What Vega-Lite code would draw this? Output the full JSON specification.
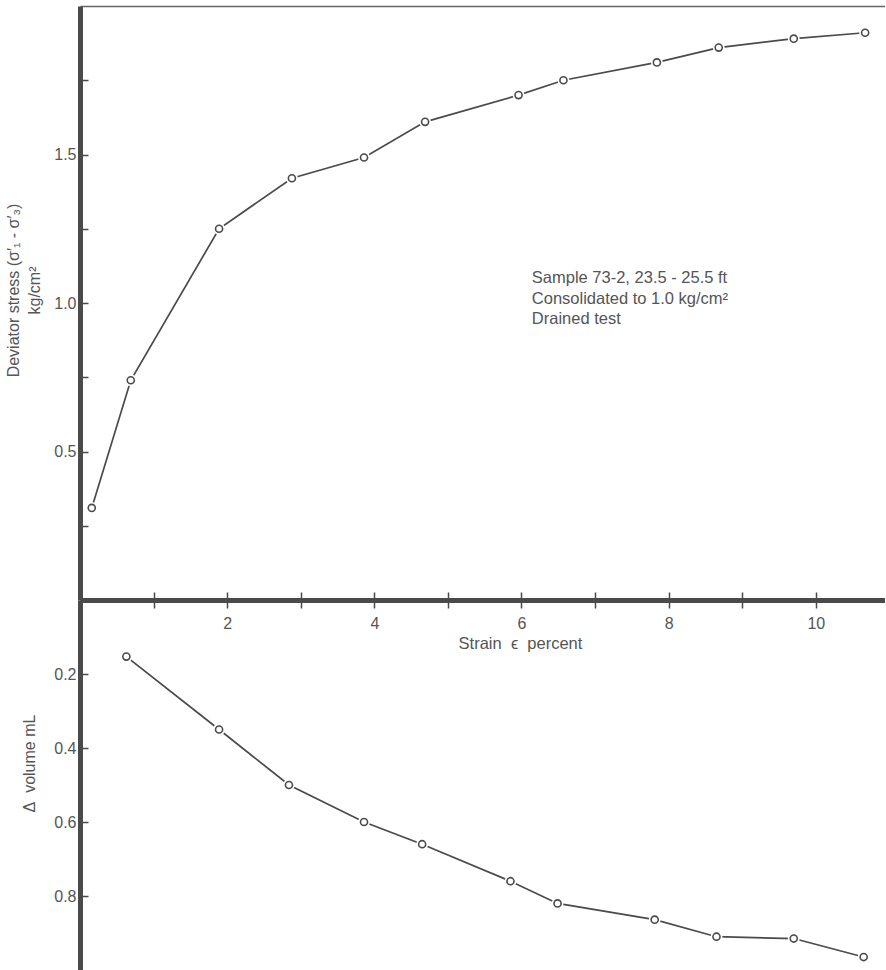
{
  "$schema": "https://vega.github.io/schema/vega-lite/v6.json",
  "autosize": {"type": "pad"},
  "padding": {"left": 5, "top": 6, "right": 0, "bottom": 0},
  "background": "white",
  "config": {
    "view": {"stroke": null},
    "font": "Liberation Sans",
    "axis": {
      "labelFont": "Liberation Sans",
      "titleFont": "Liberation Sans",
      "labelColor": "#555",
      "titleColor": "#555",
      "labelFontSize": 16,
      "titleFontSize": 16,
      "titleFontWeight": "normal",
      "domainColor": "#4a4a4a",
      "tickColor": "#4a4a4a",
      "grid": false
    }
  },
  "datasets": {
    "stress": [
      {"strain": 0.16, "stress": 0.31},
      {"strain": 0.69, "stress": 0.74},
      {"strain": 1.89, "stress": 1.25},
      {"strain": 2.88, "stress": 1.42},
      {"strain": 3.86, "stress": 1.49},
      {"strain": 4.69, "stress": 1.61},
      {"strain": 5.96, "stress": 1.70},
      {"strain": 6.57, "stress": 1.75},
      {"strain": 7.84, "stress": 1.81},
      {"strain": 8.68, "stress": 1.86},
      {"strain": 9.70, "stress": 1.89},
      {"strain": 10.67, "stress": 1.91}
    ],
    "volume": [
      {"strain": 0.63, "volume": 0.153},
      {"strain": 1.89, "volume": 0.35},
      {"strain": 2.84, "volume": 0.50},
      {"strain": 3.86, "volume": 0.60},
      {"strain": 4.65, "volume": 0.66},
      {"strain": 5.85, "volume": 0.76},
      {"strain": 6.49, "volume": 0.82},
      {"strain": 7.81, "volume": 0.864},
      {"strain": 8.65, "volume": 0.91},
      {"strain": 9.70, "volume": 0.915},
      {"strain": 10.65, "volume": 0.965}
    ],
    "notes": [
      {"strain": 6.14, "stress": 1.083, "text": "Sample 73-2, 23.5 - 25.5 ft"},
      {"strain": 6.14, "stress": 1.013, "text": "Consolidated to 1.0 kg/cm²"},
      {"strain": 6.14, "stress": 0.945, "text": "Drained test"}
    ]
  },
  "vconcat": [
    {
      "width": 805,
      "height": 594,
      "encoding": {
        "y": {
          "field": "stress", "type": "quantitative",
          "scale": {"domain": [0, 2], "nice": false, "zero": false},
          "axis": {
            "title": ["Deviator stress (σ′₁ - σ′₃)", "kg/cm²"],
            "titleLineHeight": 21,
            "titleY": 284,
            "titlePadding": 11,
            "values": [0.25, 0.5, 0.75, 1, 1.25, 1.5, 1.75],
            "labelExpr": "datum.value % 0.5 === 0 ? format(datum.value, '.1f') : ''",
            "tickSize": -8,
            "tickWidth": 1.5,
            "labelPadding": 12,
            "domainWidth": 5
          }
        }
      },
      "layer": [
        {
          "data": {"name": "stress"},
          "mark": {"type": "line", "color": "#4a4a4a", "strokeWidth": 1.7},
          "encoding": {
            "x": {
              "field": "strain", "type": "quantitative",
              "scale": {"domain": [0, 10.94], "nice": false, "zero": false},
              "axis": {
                "orient": "bottom",
                "title": "Strain\u00a0 ϵ\u00a0 percent",
                "titleFontSize": 16.5,
                "titleX": 440,
                "titlePadding": 4,
                "values": [1, 2, 3, 4, 5, 6, 7, 8, 9, 10],
                "labelExpr": "datum.value % 2 === 0 ? datum.label : ''",
                "tickSize": 8,
                "tickWidth": 1.5,
                "labelPadding": 7,
                "domainWidth": 5
              }
            }
          }
        },
        {
          "data": {"name": "stress"},
          "mark": {"type": "point", "shape": "circle", "filled": true, "fill": "white", "strokeWidth": 0, "size": 140, "opacity": 1},
          "encoding": {
            "x": {
              "field": "strain", "type": "quantitative",
              "axis": {
                "orient": "top", "title": null, "labels": false, "ticks": false,
                "domainWidth": 1.5, "domainColor": "#666"
              }
            }
          }
        },
        {
          "data": {"name": "stress"},
          "mark": {"type": "point", "shape": "circle", "filled": false, "fill": "white", "stroke": "#4a4a4a", "strokeWidth": 1.6, "size": 50, "opacity": 1},
          "encoding": {
            "x": {"field": "strain", "type": "quantitative", "axis": null}
          }
        },
        {
          "data": {"name": "notes"},
          "mark": {"type": "text", "align": "left", "baseline": "middle", "fontSize": 16.5, "color": "#555", "font": "Liberation Sans"},
          "encoding": {
            "x": {"field": "strain", "type": "quantitative", "axis": null},
            "text": {"field": "text"}
          }
        }
      ],
      "resolve": {"axis": {"x": "independent"}}
    },
    {
      "width": 805,
      "height": 370,
      "data": {"name": "volume"},
      "encoding": {
        "x": {
          "field": "strain", "type": "quantitative",
          "scale": {"domain": [0, 10.94], "nice": false, "zero": false},
          "axis": {
            "orient": "top", "title": null, "labels": false,
            "values": [1, 2, 3, 4, 5, 6, 7, 8, 9, 10],
            "tickSize": 8, "tickWidth": 1.5, "domainWidth": 5
          }
        },
        "y": {
          "field": "volume", "type": "quantitative",
          "scale": {"domain": [0, 1], "nice": false, "zero": false, "reverse": true},
          "axis": {
            "title": "Δ\u00a0 volume mL",
            "titleY": 163,
            "titlePadding": 16,
            "values": [0.2, 0.4, 0.6, 0.8],
            "format": ".1f",
            "tickSize": -8,
            "tickWidth": 1.5,
            "labelPadding": 12,
            "domainWidth": 5
          }
        }
      },
      "layer": [
        {"mark": {"type": "line", "color": "#4a4a4a", "strokeWidth": 1.7}},
        {"mark": {"type": "point", "shape": "circle", "filled": true, "fill": "white", "strokeWidth": 0, "size": 140, "opacity": 1}},
        {"mark": {"type": "point", "shape": "circle", "filled": false, "fill": "white", "stroke": "#4a4a4a", "strokeWidth": 1.6, "size": 50, "opacity": 1}}
      ]
    }
  ],
  "spacing": 0,
  "bounds": "flush"
}
